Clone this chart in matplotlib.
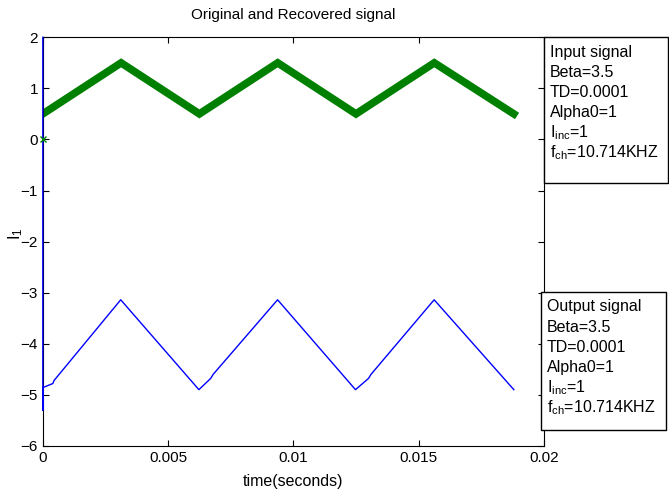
import numpy as np
import matplotlib.pyplot as plt
from matplotlib.patches import Rectangle

plt.rcParams['font.family'] = ['Liberation Sans', 'DejaVu Sans']
plt.rcParams['mathtext.fontset'] = 'custom'
plt.rcParams['mathtext.rm'] = 'Liberation Sans'
plt.rcParams['mathtext.it'] = 'Liberation Sans'

# ----------- data --------------------------------------
t_in = [0, 0, 0.003125, 0.00625, 0.009375, 0.0125, 0.015625, 0.0188]
i_in = [0.0, 0.5, 1.5, 0.5, 1.5, 0.5, 1.5, 0.5]

t_out = [0, 0, 0, 0.0004, 0.00045, 0.00311, 0.00623, 0.0067, 0.0068,
         0.00937, 0.01248, 0.0130, 0.0131, 0.01562, 0.0188]
i_out = [2.0, -5.3, -4.86, -4.78, -4.72, -3.14, -4.90, -4.68, -4.60,
         -3.14, -4.90, -4.68, -4.60, -3.14, -4.90]

xticks = [0, 0.005, 0.01, 0.015, 0.02]
xticklabels = ['0', '0.005', '0.01', '0.015', '0.02']
yticks = [-6, -5, -4, -3, -2, -1, 0, 1, 2]

box_lines = ['Beta=3.5', 'TD=0.0001', 'Alpha0=1', r'I$_{\mathrm{inc}}$=1',
             r'f$_{\mathrm{ch}}$=10.714KHZ']

# ----------- figure ----------------
fig = plt.figure(figsize=(6.69, 4.91), dpi=100)
ax = fig.add_axes([0.064, 0.092, 0.749, 0.832])

ax.plot(t_in[1:], i_in[1:], color=(0, 0.5, 0), lw=5.5, solid_joinstyle='miter')
ax.plot(t_in[:1], i_in[:1], 'x', color=(0, 0.5, 0), ms=5, mew=1,
        zorder=6, clip_on=False)
ax.plot(t_out, i_out, color='b', lw=1, zorder=5, clip_on=False)

ax.set_xlim(0, 0.02)
ax.set_ylim(-6, 2)
ax.set_xticks(xticks)
ax.set_xticklabels(xticklabels)
ax.set_yticks(yticks)
ax.tick_params(direction='in', top=True, right=True, labelsize=11, length=4)
ax.set_title('Original and Recovered signal', fontsize=11, pad=13)
ax.set_xlabel('time(seconds)', fontsize=11.5, labelpad=7)
ax.set_ylabel(r'I$_1$', fontsize=12)
ax.yaxis.set_label_coords(-0.036, 0.52)

W, H = 669, 491


def text_box(x0, y0, x1, y1, title):
    fig.patches.append(Rectangle((x0 / W, 1 - y1 / H), (x1 - x0) / W, (y1 - y0) / H,
                                 transform=fig.transFigure, fill=True,
                                 facecolor='white', edgecolor='black', lw=1))
    for k, s in enumerate([title] + box_lines):
        fig.text((x0 + 6) / W, 1 - (y0 + 15 + 20.2 * k) / H, s,
                 fontsize=11.5, va='center', ha='left')


text_box(544, 37, 668, 183, 'Input signal')
text_box(541, 292, 666, 430, 'Output signal')

fig.savefig('out.png', dpi=100)
